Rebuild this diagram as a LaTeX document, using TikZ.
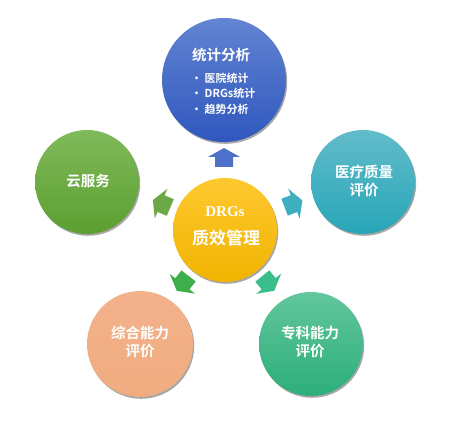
\documentclass[tikz,border=0pt]{standalone}
\usepackage{fontspec}
\newfontfamily\cjk{Noto Sans CJK SC}[BoldFont={Noto Sans CJK SC Bold}]
\newfontfamily\serifb{Liberation Serif}
\usetikzlibrary{shadows}
\definecolor{blueT}{HTML}{6384D2}
\definecolor{blueB}{HTML}{2F57BE}
\definecolor{yelT}{HTML}{FFC830}
\definecolor{yelB}{HTML}{F0B400}
\definecolor{grnT}{HTML}{80BA5A}
\definecolor{grnB}{HTML}{5C9E30}
\definecolor{tealT}{HTML}{62BCCA}
\definecolor{tealB}{HTML}{27A6B8}
\definecolor{orgT}{HTML}{F3B28C}
\definecolor{orgB}{HTML}{F0AC80}
\definecolor{emT}{HTML}{62C69D}
\definecolor{emB}{HTML}{2CAE7A}
\definecolor{arBL}{RGB}{62,174,74}
\definecolor{arBR}{RGB}{60,190,140}
\tikzset{
  bubble/.style={circle, inner sep=0pt, draw=none,
    drop shadow={shadow xshift=1.2pt, shadow yshift=-1.8pt, opacity=0.35, fill=black}},
  lbl/.style={text=white, font=\cjk\bfseries\fontsize{14.5}{17.5}\selectfont, align=center, inner sep=0pt},
  blt/.style={text=white, font=\cjk\bfseries\fontsize{11}{12}\selectfont, anchor=west, inner sep=0pt},
  arr/.style={fill=#1},
}
\begin{document}
\begin{tikzpicture}[x=1pt,y=1pt]
\useasboundingbox (0,0) rectangle (466,434);
\fill[white] (0,0) rectangle (466,434);
% circles
\node[bubble, minimum size=124pt, top color=blueT, bottom color=blueB] (top) at (224,354) {};
\node[bubble, minimum size=104pt, top color=grnT, bottom color=grnB] (left) at (87,252) {};
\node[bubble, minimum size=104pt, top color=tealT, bottom color=tealB] (right) at (363,252) {};
\node[bubble, minimum size=106pt, top color=orgT, bottom color=orgB] (bl) at (140,90) {};
\node[bubble, minimum size=104pt, top color=emT, bottom color=emB] (br) at (311,90) {};
\node[bubble, minimum size=104pt, top color=yelT, bottom color=yelB] (ctr) at (225,204) {};
% arrows
\fill[arr=blueB!85!white, shift={(224,276)}, rotate=0]
  (0,10) -- (16,1) -- (9,1) -- (9,-9) -- (-9,-9) -- (-9,1) -- (-16,1) -- cycle;
\fill[arr=grnB!90!white, shift={(162,230)}, rotate=67]
  (0,10) -- (16,1) -- (9,1) -- (9,-9) -- (-9,-9) -- (-9,1) -- (-16,1) -- cycle;
\fill[arr=tealB!90!white, shift={(293,230)}, rotate=-69]
  (0,10) -- (16,1) -- (9,1) -- (9,-9) -- (-9,-9) -- (-9,1) -- (-16,1) -- cycle;
\fill[arr=arBL, shift={(183,151)}, rotate=142]
  (0,10) -- (16,1) -- (9,1) -- (9,-9) -- (-9,-9) -- (-9,1) -- (-16,1) -- cycle;
\fill[arr=arBR, shift={(268,151)}, rotate=-141]
  (0,10) -- (16,1) -- (9,1) -- (9,-9) -- (-9,-9) -- (-9,1) -- (-16,1) -- cycle;
% texts
\node[lbl] (t1) at (221,379) {统计分析};
\node[blt] (b1) at (191,356) {• 医院统计};
\node[blt] (b2) at (191,341) {• DRGs统计};
\node[blt] (b3) at (191,325) {• 趋势分析};
\node[lbl, font=\serifb\bfseries\fontsize{15}{17}\selectfont] (c1) at (225,222) {DRGs};
\node[lbl, font=\cjk\bfseries\fontsize{17}{19}\selectfont] (c2) at (226,196) {质效管理};
\node[lbl] (t2) at (88,253) {云服务};
\node[lbl] (t3) at (364,253) {医疗质量\\评价};
\node[lbl] (t4) at (140,92) {综合能力\\评价};
\node[lbl] (t5) at (310,92) {专科能力\\评价};
\end{tikzpicture}
\end{document}
